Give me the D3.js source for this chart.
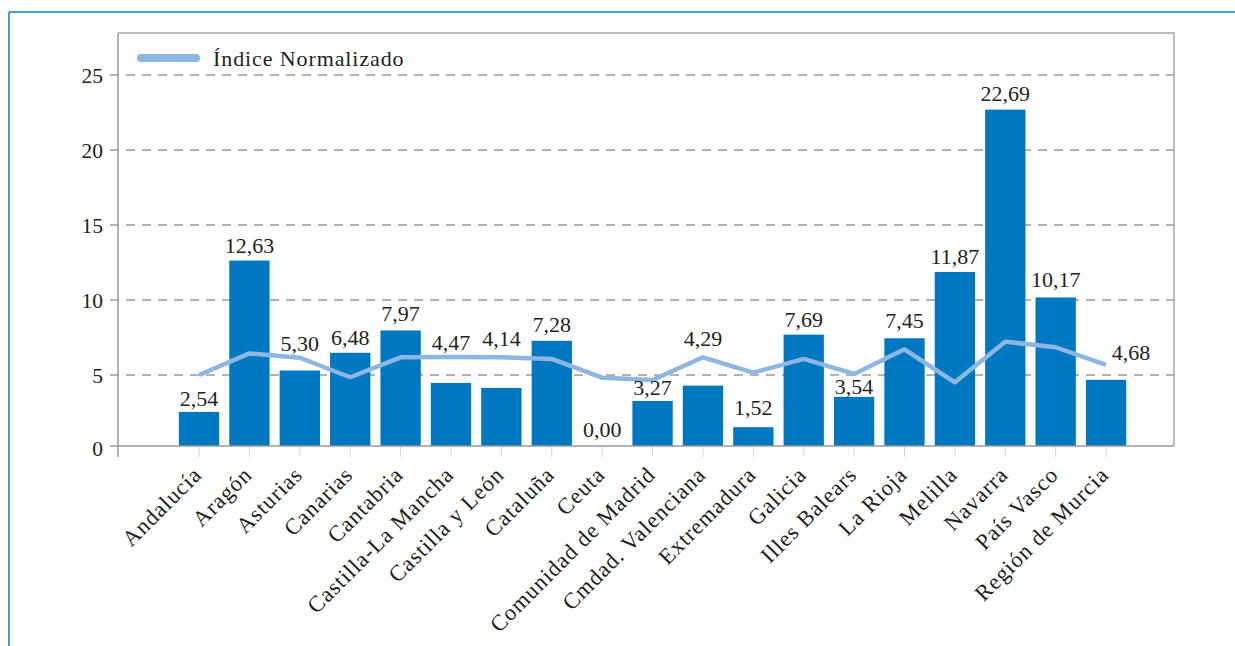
<!DOCTYPE html>
<html>
<head>
<meta charset="utf-8">
<script src="https://cdn.jsdelivr.net/npm/d3@7"></script>
<style>
  html, body { margin: 0; padding: 0; background: #fff; }
  svg { display: block; }
  text { font-family: "Liberation Serif", "Times New Roman", serif; fill: #231f20; }
</style>
</head>
<body>
<svg id="chart" width="1235" height="646"></svg>
<script>
// ---------- data ----------
const categories = ["Andalucía", "Aragón", "Asturias", "Canarias", "Cantabria", "Castilla-La Mancha",
  "Castilla y León", "Cataluña", "Ceuta", "Comunidad de Madrid", "Cmdad. Valenciana", "Extremadura",
  "Galicia", "Illes Balears", "La Rioja", "Melilla", "Navarra", "País Vasco", "Región de Murcia"];
const barValues = [2.54, 12.63, 5.30, 6.48, 7.97, 4.47, 4.14, 7.28, 0.00, 3.27, 4.29, 1.52,
  7.69, 3.54, 7.45, 11.87, 22.69, 10.17, 4.68];
const indexValues = [5.00, 6.44, 6.15, 4.85, 6.18, 6.20, 6.18, 6.07, 4.82, 4.67, 6.18, 5.16,
  6.07, 5.07, 6.71, 4.51, 7.22, 6.85, 5.67];
const yTicks = [0, 5, 10, 15, 20, 25];
const legendLabel = "Índice Normalizado";

// ---------- layout (label placement, px) ----------
const labelLift = [6, 8, 20, 8, 9, 33, 42, 9, 13, 6, 40, 12, 8, 3, 10, 8, 9, 10, 20];
const labelShiftX = [0, 0, 0, 0, 0, 0, 0, 0, 0, 0, 0, 0, 0, 0, 0, 0, 0, 0, 25];

const svg = d3.select("#chart");
const plot = { left: 118, right: 1174, top: 33, bottom: 446 };

const x = d3.scaleBand().domain(categories).range([168.8, 1136.3]).padding(0.2);
const y = d3.scaleLinear().domain([0, 25]).range([450, 75]);
const fmt = v => v.toFixed(2).replace(".", ",");

// outer blue frame
svg.append("line").attr("x1", 9).attr("x2", 1235).attr("y1", 12).attr("y2", 12)
  .attr("stroke", "#0c7cd5").attr("stroke-width", 1.5);
svg.append("line").attr("x1", 9).attr("x2", 9).attr("y1", 12).attr("y2", 646)
  .attr("stroke", "#0c7cd5").attr("stroke-width", 1.5);

// clip
svg.append("clipPath").attr("id", "plotclip").append("rect")
  .attr("x", plot.left).attr("y", plot.top)
  .attr("width", plot.right - plot.left).attr("height", plot.bottom - plot.top);

// gridlines
svg.append("g").selectAll("line").data(yTicks.filter(d => d > 0)).join("line")
  .attr("x1", 110).attr("x2", plot.right)
  .attr("y1", d => y(d)).attr("y2", d => y(d))
  .attr("stroke", "#9a9a9a").attr("stroke-width", 1.3).attr("stroke-dasharray", "9,7");

// plot border (top/right)
svg.append("path")
  .attr("d", `M${plot.left},${plot.top}H${plot.right}V${plot.bottom}`)
  .attr("fill", "none").attr("stroke", "#a8a8a8").attr("stroke-width", 1.5);

// bars
svg.append("g").attr("clip-path", "url(#plotclip)")
  .selectAll("rect").data(barValues).join("rect")
  .attr("x", (d, i) => x(categories[i]))
  .attr("width", x.bandwidth())
  .attr("y", d => y(d))
  .attr("height", d => y(0) - y(d))
  .attr("fill", "#0077c1");

// x tick marks
svg.append("g").selectAll("line").data(categories).join("line")
  .attr("x1", d => x(d) + x.bandwidth() / 2).attr("x2", d => x(d) + x.bandwidth() / 2)
  .attr("y1", plot.bottom).attr("y2", plot.bottom + 11)
  .attr("stroke", "#d6d6d6").attr("stroke-width", 1);

// axes lines
svg.append("line").attr("x1", 110).attr("x2", plot.right)
  .attr("y1", plot.bottom).attr("y2", plot.bottom)
  .attr("stroke", "#9a9a9a").attr("stroke-width", 1.5);
svg.append("line").attr("x1", plot.left).attr("x2", plot.left)
  .attr("y1", plot.top).attr("y2", plot.bottom + 11)
  .attr("stroke", "#9a9a9a").attr("stroke-width", 1.5);

// line series
const line = d3.line()
  .x((d, i) => x(categories[i]) + x.bandwidth() / 2)
  .y(d => y(d));
svg.append("path").datum(indexValues)
  .attr("d", line)
  .attr("fill", "none").attr("stroke", "#8db6e1").attr("stroke-width", 4.5)
  .attr("stroke-linejoin", "round");

// value labels
svg.append("g").selectAll("text").data(barValues).join("text")
  .attr("x", (d, i) => x(categories[i]) + x.bandwidth() / 2 + labelShiftX[i])
  .attr("y", (d, i) => y(d) - labelLift[i])
  .attr("text-anchor", "middle")
  .attr("font-size", 22)
  .text(d => fmt(d));

// y tick labels
svg.append("g").selectAll("text").data(yTicks).join("text")
  .attr("x", 103)
  .attr("y", d => (d === 0 ? plot.bottom + 2 : y(d)))
  .attr("dy", "0.35em")
  .attr("text-anchor", "end")
  .attr("font-size", 21.5)
  .text(d => d);

// x labels
svg.append("g").selectAll("text").data(categories).join("text")
  .attr("text-anchor", "end")
  .attr("font-size", 22.5)
  .attr("letter-spacing", "1")
  .attr("transform", d => `translate(${x(d) + x.bandwidth() / 2 + 4},${plot.bottom + 30}) rotate(-45)`)
  .text(d => d);

// legend
svg.append("line").attr("x1", 141).attr("x2", 196).attr("y1", 58).attr("y2", 58)
  .attr("stroke", "#8db6e1").attr("stroke-width", 8).attr("stroke-linecap", "round");
svg.append("text").attr("x", 213).attr("y", 65.5)
  .attr("font-size", 22).attr("letter-spacing", "0.9")
  .text(legendLabel);
</script>
</body>
</html>
